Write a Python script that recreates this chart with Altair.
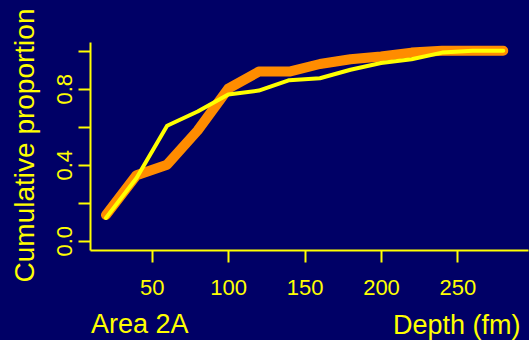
import altair as alt
import pandas as pd

# Depth bins (fm) and cumulative proportions for the two series
depth = [20, 40, 60, 80, 100, 120, 140, 160, 180, 200, 220, 240, 260, 280]
cum_thick = [0.135, 0.345, 0.40, 0.58, 0.80, 0.89, 0.89, 0.93, 0.955, 0.97, 0.99, 1.0, 1.0, 1.0]
cum_thin = [0.12, 0.33, 0.605, 0.68, 0.77, 0.79, 0.845, 0.855, 0.90, 0.935, 0.955, 0.99, 1.0, 1.0]

x_ticks = [50, 100, 150, 200, 250]
y_ticks = [0.0, 0.2, 0.4, 0.6, 0.8, 1.0]

BG = "#000066"
YELLOW = "#FFFF00"
ORANGE = "#FF8C00"
FONT = "Liberation Sans"

df = pd.DataFrame({
    "depth": depth * 2,
    "cum": cum_thick + cum_thin,
    "series": ["thick"] * len(depth) + ["thin"] * len(depth),
})

x_enc = alt.X(
    "depth:Q",
    scale=alt.Scale(domain=[9.54, 296.2], nice=False, zero=False),
    axis=alt.Axis(
        values=x_ticks,
        title="Depth (fm)",
        titleX=430,
        titleY=83,
        titleAlign="right",
        titleBaseline="alphabetic",
        titleFontSize=27,
        labelBaseline="alphabetic",
        labelPadding=32,
        labelAlign="center",
    ),
)
y_enc = alt.Y(
    "cum:Q",
    scale=alt.Scale(domain=[-0.0489, 1.0458], nice=False, zero=False),
    axis=alt.Axis(
        values=y_ticks,
        format=".1f",
        labelExpr="indexof(['0.0','0.4','0.8'], datum.label) >= 0 ? datum.label : ''",
        labelAngle=270,
        labelAlign="center",
        labelBaseline="alphabetic",
        labelPadding=7,
        title="Cumulative proportion",
        titleAngle=270,
        titleX=-57,
        titleY=103,
        titleAlign="center",
        titleBaseline="alphabetic",
        titleFontSize=28,
    ),
)

base = alt.Chart(df)

thick = base.transform_filter(alt.datum.series == "thick").mark_line(
    color=ORANGE, strokeWidth=10, strokeCap="round", strokeJoin="round"
).encode(x=x_enc, y=y_enc)

thin = base.transform_filter(alt.datum.series == "thin").mark_line(
    color=YELLOW, strokeWidth=4, strokeCap="round", strokeJoin="round"
).encode(x="depth:Q", y="cum:Q")

area_label = alt.Chart(pd.DataFrame({"label": ["Area 2A"]})).mark_text(
    font=FONT, fontSize=27, color=YELLOW, align="left", baseline="alphabetic"
).encode(text="label:N", x=alt.value(1), y=alt.value(291))

chart = (
    alt.layer(thick, thin, area_label)
    .properties(
        width=438,
        height=208,
        autosize=alt.AutoSizeParams(type="none"),
        padding={"left": 90, "top": 42, "right": 1, "bottom": 90},
        background=BG,
    )
    .configure_view(stroke=None)
    .configure_axis(
        grid=False,
        domainColor=YELLOW,
        domainWidth=2,
        tickColor=YELLOW,
        tickWidth=2,
        tickSize=12,
        labelColor=YELLOW,
        labelFont=FONT,
        labelFontSize=22,
        titleColor=YELLOW,
        titleFont=FONT,
        titleFontWeight="normal",
    )
)

chart.save("out.html", embed_options={"renderer": "svg", "actions": False})
